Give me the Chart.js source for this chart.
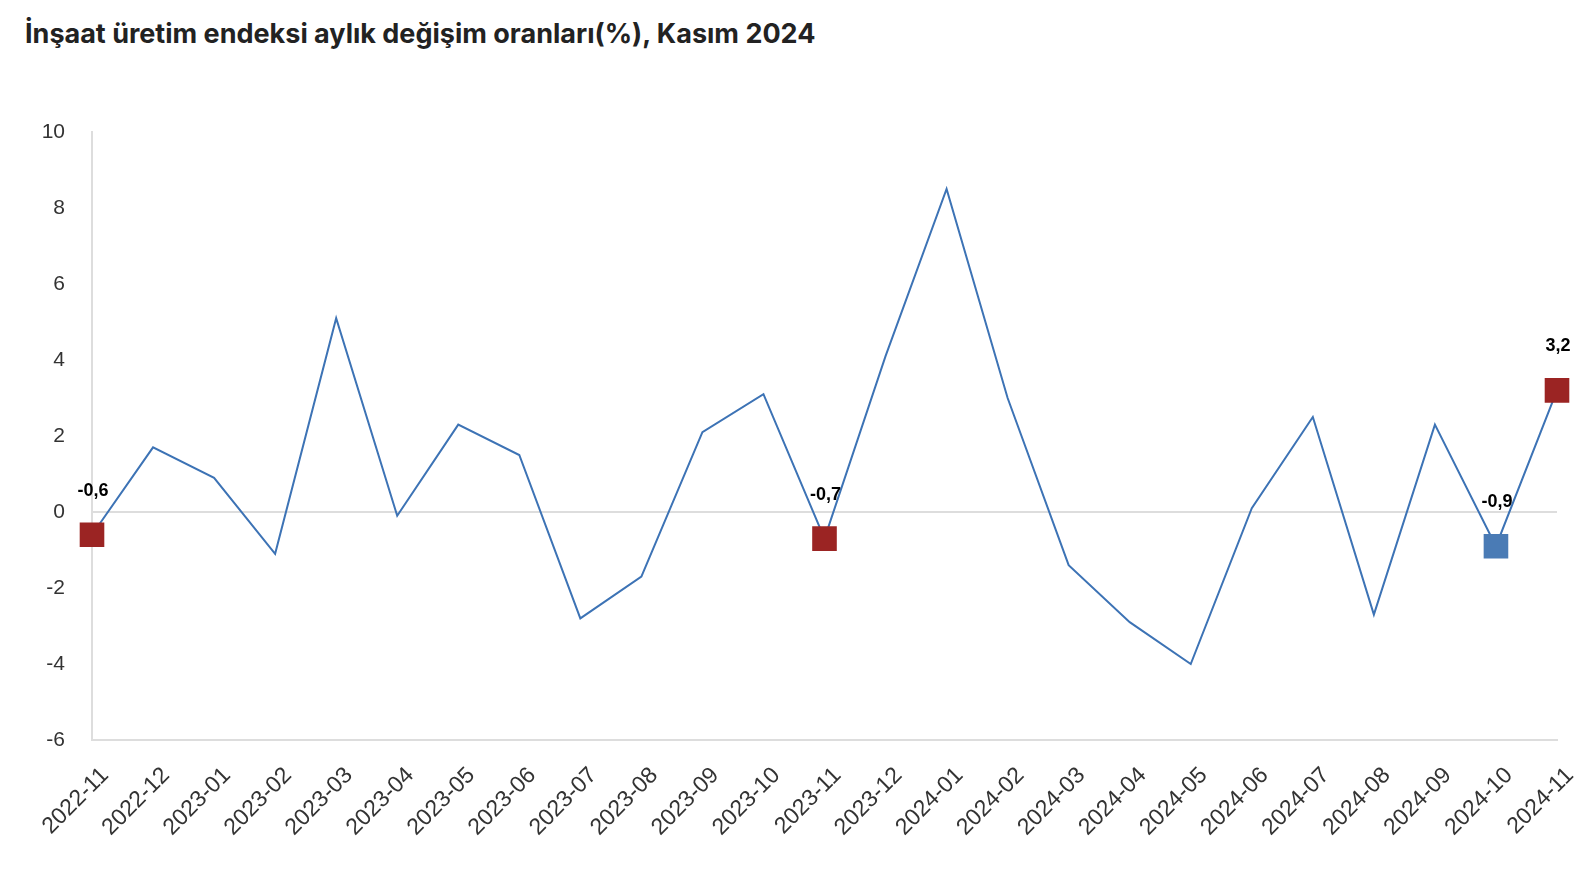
<!DOCTYPE html>
<html lang="tr">
<head>
<meta charset="utf-8">
<title>İnşaat üretim endeksi aylık değişim oranları</title>
<script src="https://cdn.jsdelivr.net/npm/chart.js@4/dist/chart.umd.min.js"></script>
<style>
    html, body { margin: 0; padding: 0; background: #fff; }
    #wrap { position: relative; width: 1594px; height: 872px; }
    #title {
        position: absolute; left: 25px; top: 17px;
        font: bold 27px Inter, "Noto Sans", sans-serif;
        color: #222;
        white-space: nowrap;
    }
    canvas { position: absolute; left: 0; top: 0; }
</style>
</head>
<body>
<div id="wrap">
    <div id="title">İnşaat üretim endeksi aylık değişim oranları(%), Kasım 2024</div>
    <canvas id="chart" width="1594" height="872"></canvas>
</div>
<script>
// Months shown on the x axis
const months = [
    '2022-11', '2022-12', '2023-01', '2023-02', '2023-03', '2023-04', '2023-05',
    '2023-06', '2023-07', '2023-08', '2023-09', '2023-10', '2023-11', '2023-12',
    '2024-01', '2024-02', '2024-03', '2024-04', '2024-05', '2024-06', '2024-07',
    '2024-08', '2024-09', '2024-10', '2024-11'
];

// Monthly change, %
const changes = [
    -0.6, 1.7, 0.9, -1.1, 5.1, -0.1, 2.3,
    1.5, -2.8, -1.7, 2.1, 3.1, -0.7, 4.1,
    8.5, 3.0, -1.4, -2.9, -4.0, 0.1, 2.5,
    -2.7, 2.3, -0.9, 3.2
];

// Highlighted months (same month of each year, previous month)
const redMarks = ['2022-11', '2023-11', '2024-11'];
const blueMarks = ['2024-10'];

const yTicks = [-6, -4, -2, 0, 2, 4, 6, 8, 10];

const LINE = '#3d73b5';
const RED = '#9b2423';
const BLUE = '#4a7bb5';

function markColor(m) {
    if (redMarks.includes(m)) return RED;
    if (blueMarks.includes(m)) return BLUE;
    return null;
}

// Draws the value above each highlighted point
const markLabels = {
    id: 'markLabels',
    afterDatasetsDraw(chart) {
        const ctx = chart.ctx;
        const meta = chart.getDatasetMeta(0);
        ctx.save();
        ctx.font = 'bold 18px "Liberation Sans", Arial, sans-serif';
        ctx.fillStyle = '#000';
        ctx.textAlign = 'center';
        ctx.textBaseline = 'middle';
        months.forEach((m, i) => {
            if (!markColor(m)) return;
            const pt = meta.data[i];
            const txt = changes[i].toFixed(1).replace('.', ',');
            ctx.fillText(txt, pt.x + 1, pt.y - 44);
        });
        ctx.restore();
    }
};

const yFont = { family: '"Liberation Sans", Arial, sans-serif', size: 21 };
const xFont = { family: '"Liberation Sans", Arial, sans-serif', size: 23 };

new Chart(document.getElementById('chart'), {
    type: 'line',
    data: {
        labels: months,
        datasets: [{
            data: changes,
            borderColor: LINE,
            borderWidth: 2,
            tension: 0,
            pointStyle: 'rect',
            pointRadius: months.map(m => markColor(m) ? 17.4 : 0),
            pointBackgroundColor: months.map(m => markColor(m) || LINE),
            pointBorderColor: months.map(m => markColor(m) || LINE),
            pointBorderWidth: 0,
            pointHoverRadius: months.map(m => markColor(m) ? 17.4 : 0)
        }]
    },
    options: {
        responsive: false,
        animation: false,
        layout: { padding: { left: 0, right: 37, top: 132, bottom: 0 } },
        plugins: {
            legend: { display: false },
            tooltip: { enabled: false }
        },
        scales: {
            x: {
                offset: false,
                grid: { display: false, drawTicks: false },
                border: { color: '#dddddd', width: 2 },
                ticks: {
                    font: xFont,
                    color: '#333',
                    minRotation: 45,
                    maxRotation: 45,
                    autoSkip: false,
                    labelOffset: 13,
                    padding: 22
                },
                afterFit(scale) {
                    scale.height = 132;
                    scale.paddingLeft = 0;
                    scale.paddingRight = 0;
                }
            },
            y: {
                min: -6,
                max: 10,
                afterBuildTicks(scale) {
                    scale.ticks = yTicks.map(v => ({ value: v }));
                },
                grid: {
                    drawTicks: false,
                    color: c => c.tick && c.tick.value === 0 ? '#dddddd' : 'rgba(0,0,0,0)',
                    lineWidth: 2
                },
                border: { color: '#dddddd', width: 2 },
                ticks: {
                    font: yFont,
                    color: '#333',
                    padding: 27
                },
                afterFit(scale) { scale.width = 92; }
            }
        }
    },
    plugins: [markLabels]
});
</script>
</body>
</html>
